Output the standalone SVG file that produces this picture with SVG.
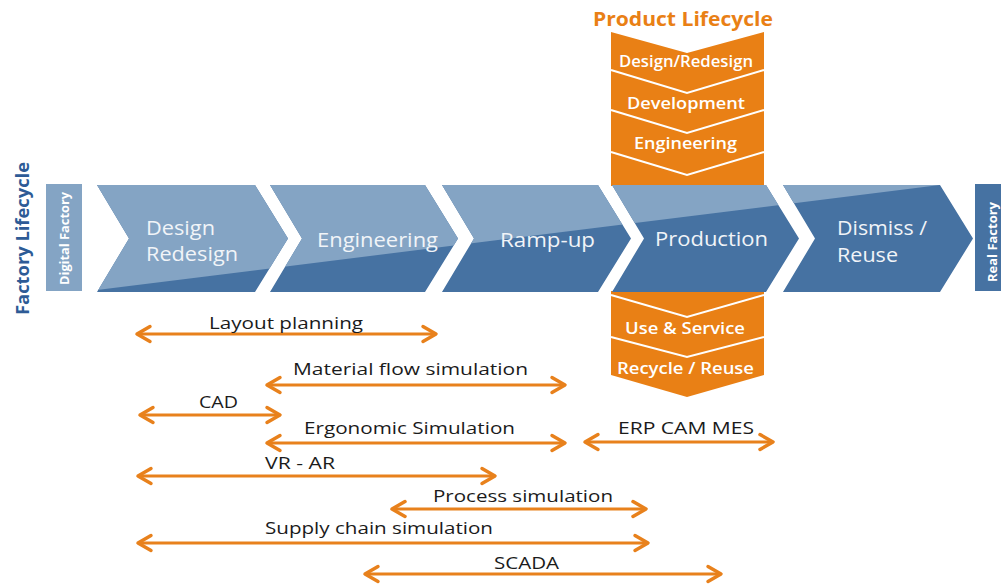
<svg xmlns="http://www.w3.org/2000/svg" width="1001" height="586" viewBox="0 0 1001 586">
<style>
  text { font-family: "Open Sans", "Liberation Sans", sans-serif; }
  .lbl { font-size: 17px; fill: #1b1b1b; }
  .ct { font-size: 19.5px; fill: #F1F4F8; }
  .ot { font-size: 15.5px; font-weight: 600; fill: #FFFFFF; }
  .vt { font-size: 12px; font-weight: 700; fill: #FFFFFF; }
  .arr { fill: none; stroke: #E8811C; stroke-width: 3; marker-start: url(#ah); marker-end: url(#ah); }
  .orange { fill: #E98015; }
  .wl { fill: none; stroke: #FFFFFF; stroke-width: 2; }
</style>
<defs>
  <marker id="ah" markerUnits="userSpaceOnUse" viewBox="-20 -12 24 24" markerWidth="24" markerHeight="24" refX="0" refY="0" orient="auto-start-reverse">
    <path d="M-13,-7.5 L0,0 L-13,7.5" fill="none" stroke="#E8811C" stroke-width="3.5" stroke-linecap="round" stroke-linejoin="round"/>
  </marker>
  <clipPath id="chevClip">
    <polygon points="97,185 255,185 288,238.5 255,292 97,292 129,238.5"/>
    <polygon points="270,185 425,185 458,238.5 425,292 270,292 302,238.5"/>
    <polygon points="442,185 598,185 631,238.5 598,292 442,292 474,238.5"/>
    <polygon points="612,185 766,185 799,238.5 766,292 612,292 644,238.5"/>
    <polygon points="783,185 940,185 973,238.5 940,292 783,292 815,238.5"/>
  </clipPath>
</defs>

<rect width="1001" height="586" fill="#FFFFFF"/>

<g id="product-lifecycle-top">
  <text x="593" y="26" font-size="19" font-weight="700" fill="#E98015" textLength="180" lengthAdjust="spacingAndGlyphs">Product Lifecycle</text>
  <polygon class="orange" points="611,32 687,53 764,32 764,186 611,186"/>
  <polyline class="wl" points="611,70 687,93 764,70"/>
  <polyline class="wl" points="611,110 687,133 764,110"/>
  <polyline class="wl" points="611,152 687,175 764,152"/>
  <text class="ot" x="619" y="67" textLength="134" lengthAdjust="spacingAndGlyphs">Design/Redesign</text>
  <text class="ot" x="627" y="109" textLength="118" lengthAdjust="spacingAndGlyphs">Development</text>
  <text class="ot" x="634" y="149" textLength="103" lengthAdjust="spacingAndGlyphs">Engineering</text>
</g>

<g id="product-lifecycle-bottom">
  <polygon class="orange" points="611,291 764,291 764,375 687,397 611,375"/>
  <polyline class="wl" points="611,295 687,317 764,295"/>
  <polyline class="wl" points="611,337 687,357 764,337"/>
  <text class="ot" x="625" y="334" textLength="120" lengthAdjust="spacingAndGlyphs">Use &amp; Service</text>
  <text class="ot" x="617" y="374" textLength="137" lengthAdjust="spacingAndGlyphs">Recycle / Reuse</text>
</g>

<g id="factory-lifecycle-label">
  <text transform="translate(29,238.5) rotate(-90)" text-anchor="middle" font-size="18.5" font-weight="700" fill="#2D5B96" textLength="153" lengthAdjust="spacingAndGlyphs">Factory Lifecycle</text>
</g>

<g id="digital-factory">
  <rect x="46" y="184" width="36" height="107" fill="#84A4C4"/>
  <text class="vt" transform="translate(69,238.5) rotate(-90)" text-anchor="middle" textLength="93" lengthAdjust="spacingAndGlyphs">Digital Factory</text>
</g>

<g id="real-factory">
  <rect x="975" y="184" width="26" height="107" fill="#4672A2"/>
  <text class="vt" transform="translate(997,242) rotate(-90)" text-anchor="middle" textLength="80" lengthAdjust="spacingAndGlyphs">Real Factory</text>
</g>

<g id="chevron-band">
  <g clip-path="url(#chevClip)">
    <rect x="80" y="180" width="900" height="115" fill="#4672A2"/>
    <polygon points="80,292.1 80,180 960,180 960,182.5" fill="#84A4C4"/>
  </g>
</g>

<g id="stage-design">
  <text class="ct" x="146" y="235" textLength="69" lengthAdjust="spacingAndGlyphs">Design</text>
  <text class="ct" x="146" y="261" textLength="92" lengthAdjust="spacingAndGlyphs">Redesign</text>
</g>
<g id="stage-engineering">
  <text class="ct" x="317" y="247" textLength="121" lengthAdjust="spacingAndGlyphs">Engineering</text>
</g>
<g id="stage-rampup">
  <text class="ct" x="500" y="247" textLength="95" lengthAdjust="spacingAndGlyphs">Ramp-up</text>
</g>
<g id="stage-production">
  <text class="ct" x="655" y="246" textLength="113" lengthAdjust="spacingAndGlyphs">Production</text>
</g>
<g id="stage-dismiss">
  <text class="ct" x="837" y="235" textLength="90" lengthAdjust="spacingAndGlyphs">Dismiss /</text>
  <text class="ct" x="837" y="262" textLength="61" lengthAdjust="spacingAndGlyphs">Reuse</text>
</g>

<g id="connectors">
  <line class="arr" x1="137" y1="334" x2="436" y2="334"/>
  <line class="arr" x1="267" y1="385" x2="565" y2="385"/>
  <line class="arr" x1="140" y1="415" x2="280" y2="415"/>
  <line class="arr" x1="267" y1="443" x2="565" y2="443"/>
  <line class="arr" x1="585" y1="442" x2="773" y2="442"/>
  <line class="arr" x1="138" y1="476" x2="495" y2="476"/>
  <line class="arr" x1="392" y1="509" x2="646" y2="509"/>
  <line class="arr" x1="138" y1="543" x2="648" y2="543"/>
  <line class="arr" x1="365" y1="574" x2="721" y2="574"/>
</g>

<g id="tool-labels">
  <text class="lbl" x="209" y="329" textLength="154" lengthAdjust="spacingAndGlyphs">Layout planning</text>
  <text class="lbl" x="293" y="375" textLength="235" lengthAdjust="spacingAndGlyphs">Material flow simulation</text>
  <text class="lbl" x="199" y="408" textLength="39" lengthAdjust="spacingAndGlyphs">CAD</text>
  <text class="lbl" x="304" y="434" textLength="211" lengthAdjust="spacingAndGlyphs">Ergonomic Simulation</text>
  <text class="lbl" x="618" y="434" textLength="136" lengthAdjust="spacingAndGlyphs">ERP CAM MES</text>
  <text class="lbl" x="265" y="469" textLength="70" lengthAdjust="spacingAndGlyphs">VR - AR</text>
  <text class="lbl" x="433" y="502" textLength="180" lengthAdjust="spacingAndGlyphs">Process simulation</text>
  <text class="lbl" x="265" y="534" textLength="228" lengthAdjust="spacingAndGlyphs">Supply chain simulation</text>
  <text class="lbl" x="494" y="569" textLength="65" lengthAdjust="spacingAndGlyphs">SCADA</text>
</g>
</svg>
